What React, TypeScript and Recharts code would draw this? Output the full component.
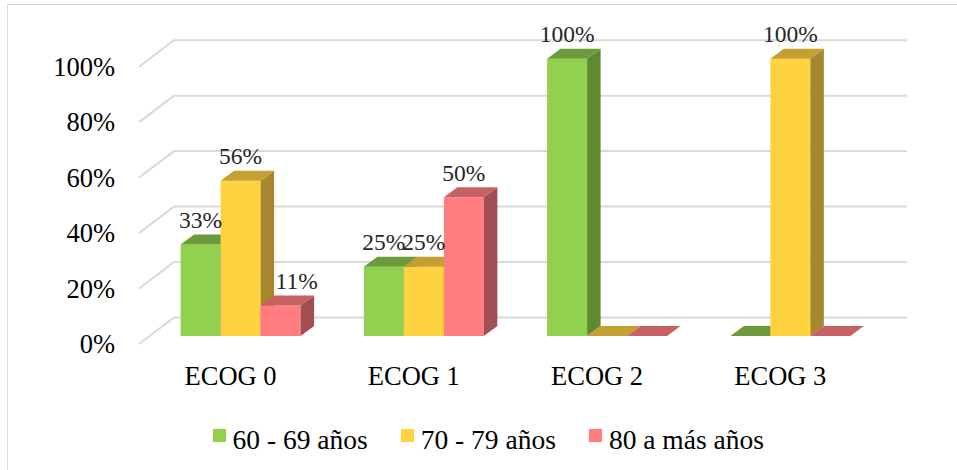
import React from 'react';
import { BarChart, Bar, XAxis, YAxis, CartesianGrid, Legend, LabelList } from 'recharts';

// ECOG performance status by age group (share of patients, %)
const categories = ['ECOG 0', 'ECOG 1', 'ECOG 2', 'ECOG 3'];
const age60to69 = [33, 25, 100, 0];
const age70to79 = [56, 25, 0, 100];
const age80plus = [11, 50, 0, 0];
const seriesNames = ['60 - 69 años', '70 - 79 años', '80 a más años'];
const yTicks = [0, 20, 40, 60, 80, 100];

const seriesValues = [age60to69, age70to79, age80plus];
const data = categories.map((category, i) => ({
  category,
  s0: age60to69[i],
  s1: age70to79[i],
  s2: age80plus[i],
}));

const FONT = 'Liberation Serif, Times New Roman, Times, DejaVu Serif';

const palette = [
  { front: '#92D050', top: '#6B9B3A', side: '#5E8A30' },
  { front: '#FFD340', top: '#C4A033', side: '#A6872B' },
  { front: '#FF7C80', top: '#C86163', side: '#A14F52' },
];

// oblique projection of the bar depth
const DX = 13.5;
const DY = -10;
// offset from the bar plane to the back wall and to the front axis plane
const WALL_X = 24.4;
const WALL_Y = -18.5;
const AXIS_X = -10.6;
const AXIS_Y = 8;

const makeBox = (c: { front: string; top: string; side: string }) => (props: any) => {
  const { x, y, width, height } = props;
  if (x == null || y == null) return null;
  const h = Math.max(0, height || 0);
  const bx = x + width;
  const by = y + h;
  const top = `M${x},${y} L${bx},${y} L${bx + DX},${y + DY} L${x + DX},${y + DY} Z`;
  const side = `M${bx},${y} L${bx + DX},${y + DY} L${bx + DX},${by + DY} L${bx},${by} Z`;
  return (
    <g>
      {h > 0 && <rect x={x} y={y} width={width} height={h} fill={c.front} />}
      {h > 0 && <path d={side} fill={c.side} />}
      <path d={top} fill={c.top} />
    </g>
  );
};

const LABEL_SIZE = 23.5;

const makeLabel = (seriesIdx: number) => (props: any) => {
  const vb = props.viewBox && props.viewBox.width != null ? props.viewBox : props;
  const { x, y, width } = vb;
  const value = props.value;
  const index = props.index;
  if (value == null || value === 0 || x == null) return null;
  const text = `${value}%`;
  const textW = LABEL_SIZE * (0.5 * (text.length - 1) + 0.833);
  let cx = x + width / 2;
  // move the label clear of a taller neighbour standing to its left
  if (seriesIdx > 0 && index != null && seriesValues[seriesIdx - 1][index] > value) {
    cx = x + DX + textW / 2 + 1;
  }
  return (
    <text
      x={cx}
      y={y + DY - 6.5}
      textAnchor="middle"
      style={{ fontFamily: FONT }}
      fontSize={LABEL_SIZE}
      fill="#262626"
    >
      {text}
    </text>
  );
};

const gridLine = (props: any) => {
  const { x1, x2, y1, key } = props;
  const d = `M${x1 + AXIS_X},${y1 + AXIS_Y} L${x1 + WALL_X},${y1 + WALL_Y} L${x2 + WALL_X},${y1 + WALL_Y}`;
  return <path key={key} d={d} fill="none" stroke="#D9D9D9" strokeWidth={2} />;
};

const CategoryTick = (props: any) => {
  const { x, y, payload } = props;
  return (
    <text x={x + AXIS_X} y={y + 49} textAnchor="middle" style={{ fontFamily: FONT }} fontSize={26.5} fill="#000">
      {payload.value}
    </text>
  );
};

const PercentTick = (props: any) => {
  const { x, y, payload } = props;
  return (
    <text x={x - 34.6} y={y + AXIS_Y + 9} textAnchor="end" style={{ fontFamily: FONT }} fontSize={26.5} fill="#000">
      {`${payload.value}%`}
    </text>
  );
};

const LegendContent = (props: any) => {
  const items = props.payload || [];
  return (
    <div
      style={{
        display: 'flex',
        alignItems: 'flex-start',
        paddingLeft: 213,
        fontFamily: FONT,
        fontSize: 27.5,
        lineHeight: '30px',
        color: '#000',
      }}
    >
      {items.map((it: any, i: number) => (
        <div key={i} style={{ display: 'flex', alignItems: 'flex-start', marginRight: 33.5 }}>
          <span
            style={{
              display: 'inline-block',
              width: 13,
              height: 13,
              marginTop: 3.5,
              marginRight: 6.5,
              background: it.color,
            }}
          />
          <span style={{ whiteSpace: 'nowrap' }}>{it.value}</span>
        </div>
      ))}
    </div>
  );
};

export default function App() {
  return (
    <div
      style={{
        position: 'absolute',
        left: 0,
        top: 0,
        width: 957,
        height: 470,
        overflow: 'hidden',
        background: '#fff',
        fontFamily: FONT,
      }}
    >
      <div
        style={{
          position: 'absolute',
          left: 7,
          top: 4,
          width: 1000,
          height: 1000,
          borderLeft: '1px solid #D9D9D9',
          borderTop: '1px solid #D9D9D9',
        }}
      />
      <div style={{ position: 'absolute', left: 0, top: 0 }}>
        <BarChart
          width={957}
          height={470}
          data={data}
          margin={{ top: 58.7, right: 74.4, bottom: 94, left: 0 }}
          barCategoryGap={31}
          barGap={0}
        >
          <CartesianGrid vertical={false} horizontal={gridLine} />
          <XAxis
            dataKey="category"
            axisLine={false}
            tickLine={false}
            tickSize={0}
            tickMargin={0}
            height={40}
            tick={<CategoryTick />}
            interval={0}
          />
          <YAxis
            domain={[0, 100]}
            ticks={yTicks}
            axisLine={false}
            tickLine={false}
            tickSize={0}
            tickMargin={0}
            width={149.6}
            tick={<PercentTick />}
            interval={0}
          />
          <Legend
            layout="horizontal"
            verticalAlign="middle"
            align="center"
            content={<LegendContent />}
            wrapperStyle={{ left: 0, top: 425, width: 957, height: 32 }}
          />
          {seriesNames.map((name, i) => (
            <Bar
              key={name}
              dataKey={`s${i}`}
              name={name}
              fill={palette[i].front}
              shape={makeBox(palette[i])}
              isAnimationActive={false}
            >
              <LabelList dataKey={`s${i}`} content={makeLabel(i)} />
            </Bar>
          ))}
        </BarChart>
      </div>
    </div>
  );
}
